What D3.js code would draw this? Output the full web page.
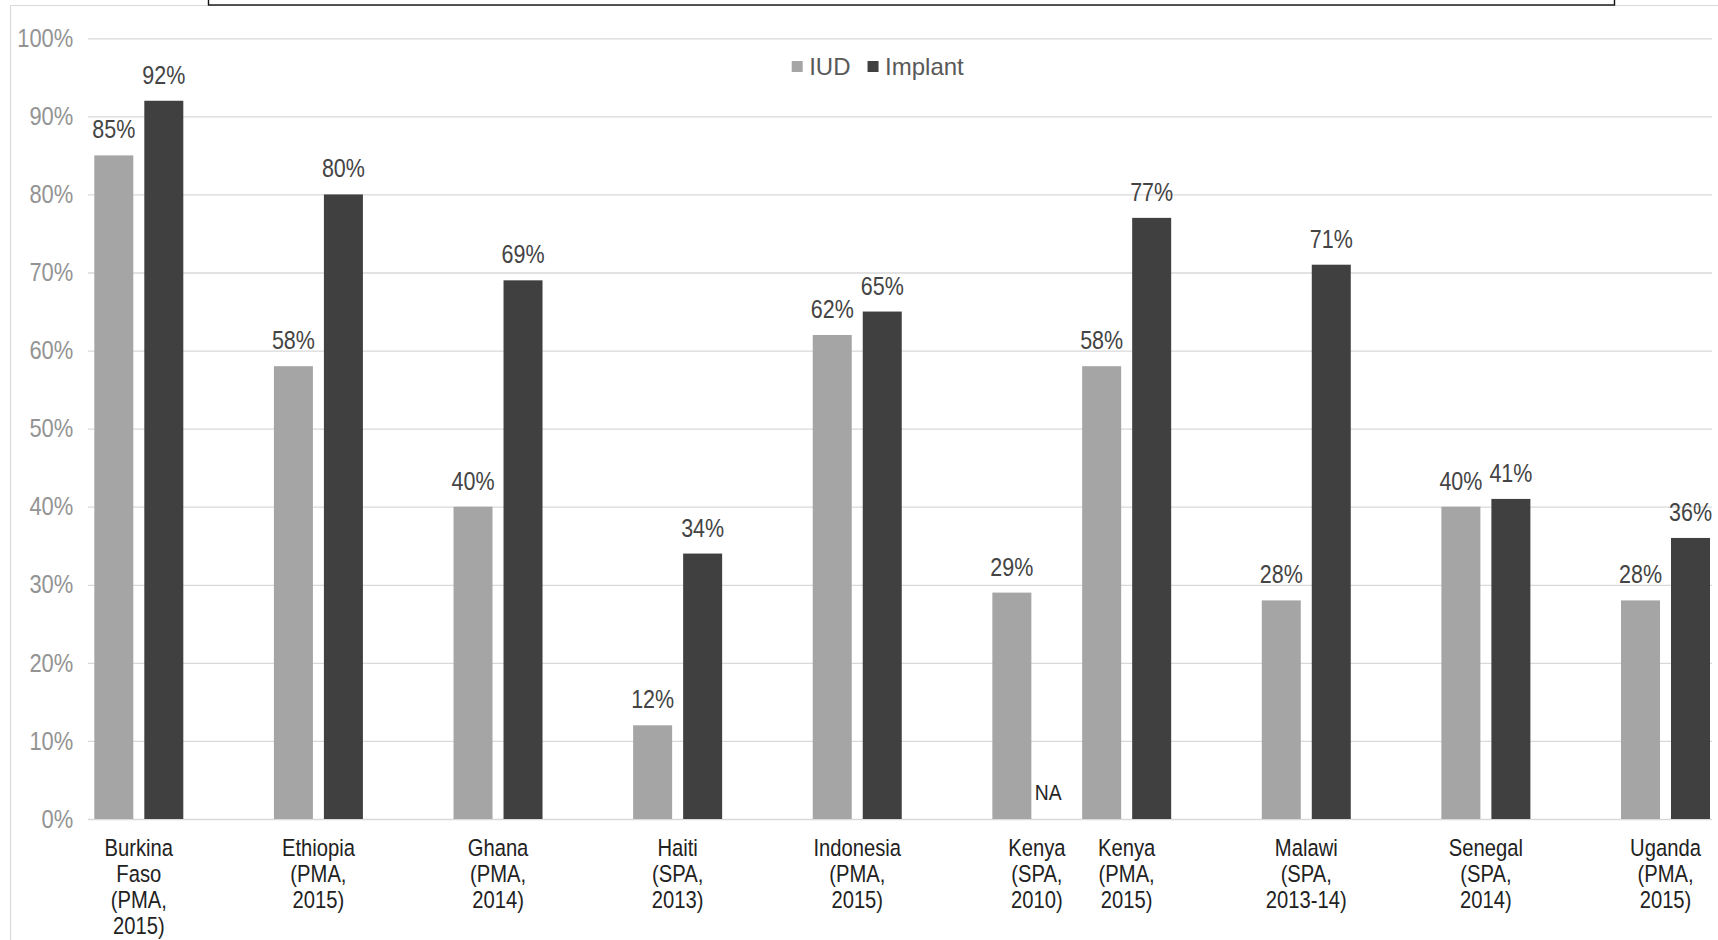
<!DOCTYPE html>
<html>
<head>
<meta charset="utf-8">
<script src="https://cdn.jsdelivr.net/npm/d3@7/dist/d3.min.js"></script>
<style>
  html, body { margin: 0; padding: 0; background: #ffffff; }
  svg { display: block; }
  text { font-family: "Liberation Sans", Arial, sans-serif; }
</style>
</head>
<body>
<svg id="chart" width="1718" height="940"></svg>
<script>
// ---- data ----
const categories = [
  "Burkina Faso (PMA, 2015)", "Ethiopia (PMA, 2015)", "Ghana (PMA, 2014)", "Haiti (SPA, 2013)",
  "Indonesia (PMA, 2015)", "Kenya (SPA, 2010)", "Kenya (PMA, 2015)", "Malawi (SPA, 2013-14)",
  "Senegal (SPA, 2014)", "Uganda (PMA, 2015)"
];
const categoryLines = [
  ["Burkina", "Faso", "(PMA,", "2015)"],
  ["Ethiopia", "(PMA,", "2015)"],
  ["Ghana", "(PMA,", "2014)"],
  ["Haiti", "(SPA,", "2013)"],
  ["Indonesia", "(PMA,", "2015)"],
  ["Kenya", "(SPA,", "2010)"],
  ["Kenya", "(PMA,", "2015)"],
  ["Malawi", "(SPA,", "2013-14)"],
  ["Senegal", "(SPA,", "2014)"],
  ["Uganda", "(PMA,", "2015)"]
];
const seriesNames = ["IUD", "Implant"];
const iudValues = [85, 58, 40, 12, 62, 29, 58, 28, 40, 28];
const implantValues = [92, 80, 69, 34, 65, null, 77, 71, 41, 36];
const yTicks = [0, 10, 20, 30, 40, 50, 60, 70, 80, 90, 100];
const naLabel = "NA";

// ---- layout ----
const svg = d3.select("#chart");
const W = 1718, H = 940;
const plotLeft = 88, plotRight = 1712;
const colors = { "IUD": "#a5a5a5", "Implant": "#404040" };
const SX = 0.86; // horizontal condensing of the narrow chart font

// the two Kenya surveys share one slot pair: categories after the first Kenya are shifted half a slot
const slotOf = i => (i > 5 ? i - 0.5 : i);

const x = d3.scaleLinear().domain([0, 8.5]).range([138.8, 1665.5]);
const xs = d3.scaleBand().domain(seriesNames).range([-44.5, 44.5]).paddingInner(0.22);
const y = d3.scaleLinear().domain([0, 100]).range([819, 38.3]);

// outer frame (light)
svg.append("line").attr("x1", 10.5).attr("x2", 10.5).attr("y1", 5.5).attr("y2", H)
  .attr("stroke", "#d9d9d9").attr("stroke-width", 1.2);
svg.append("line").attr("x1", 10.5).attr("x2", W).attr("y1", 5.5).attr("y2", 5.5)
  .attr("stroke", "#d9d9d9").attr("stroke-width", 1.2);

// top title box (cut off)
svg.append("rect").attr("x", 208.5).attr("y", -20).attr("width", 1406).attr("height", 25)
  .attr("fill", "#ffffff").attr("stroke", "#111").attr("stroke-width", 1.4);

// y axis with gridlines
const yAxis = d3.axisLeft(y)
  .tickValues(yTicks)
  .tickSize(-(plotRight - plotLeft))
  .tickPadding(14.7)
  .tickFormat(d => d + "%");
const gy = svg.append("g").attr("transform", `translate(${plotLeft},0)`).call(yAxis);
gy.select(".domain").remove();
gy.selectAll(".tick line").attr("stroke", "#d9d9d9").attr("stroke-width", 1.3);
gy.selectAll(".tick text")
  .attr("x", 0)
  .attr("transform", `translate(-14.7,0) scale(${SX},1)`)
  .attr("font-family", "'Liberation Sans', Arial, sans-serif")
  .attr("font-size", 25.5)
  .attr("fill", "#939393");

// data rows
const rows = categories.map((c, i) => ({
  name: c, i, slot: slotOf(i),
  vals: [{ s: "IUD", v: iudValues[i] }, { s: "Implant", v: implantValues[i] }]
}));

const groups = svg.append("g").selectAll("g").data(rows).join("g")
  .attr("transform", d => `translate(${x(d.slot)},0)`);

groups.selectAll("rect").data(d => d.vals.filter(e => e.v != null)).join("rect")
  .attr("x", e => xs(e.s))
  .attr("width", xs.bandwidth())
  .attr("y", e => y(e.v))
  .attr("height", e => y(0) - y(e.v))
  .attr("fill", e => colors[e.s]);

groups.selectAll("text.val").data(d => d.vals.filter(e => e.v != null)).join("text")
  .attr("class", "val")
  .attr("transform", e => `translate(${xs(e.s) + xs.bandwidth() / 2},${y(e.v) - 17}) scale(${SX},1)`)
  .attr("text-anchor", "middle")
  .attr("font-size", 25)
  .attr("fill", "#444")
  .text(e => e.v + "%");

// NA marker for missing values
groups.filter(d => d.vals.some(e => e.v == null)).append("text")
  .attr("transform", `translate(${xs("IUD") + xs.bandwidth() + 3.5},${y(0) - 19}) scale(${SX},1)`)
  .attr("font-size", 22.5)
  .attr("fill", "#262626")
  .text(naLabel);

// category labels
groups.append("text")
  .attr("transform", `scale(${SX},1)`)
  .attr("text-anchor", "middle")
  .attr("font-size", 23.5)
  .attr("fill", "#222")
  .selectAll("tspan").data(d => categoryLines[d.i]).join("tspan")
  .attr("x", 0)
  .attr("y", (t, k) => 856.5 + k * 26)
  .text(t => t);

// legend
const legend = svg.append("g").attr("transform", "translate(791.7,0)");
let lx = 0;
seriesNames.forEach(s => {
  legend.append("rect").attr("x", lx).attr("y", 61).attr("width", 11).attr("height", 11)
    .attr("fill", colors[s]);
  const t = legend.append("text")
    .attr("x", lx + 17.5).attr("y", 75)
    .attr("font-size", 24)
    .attr("fill", "#595959")
    .text(s);
  lx = lx + 17.5 + t.node().getComputedTextLength() + 17;
});
</script>
</body>
</html>
